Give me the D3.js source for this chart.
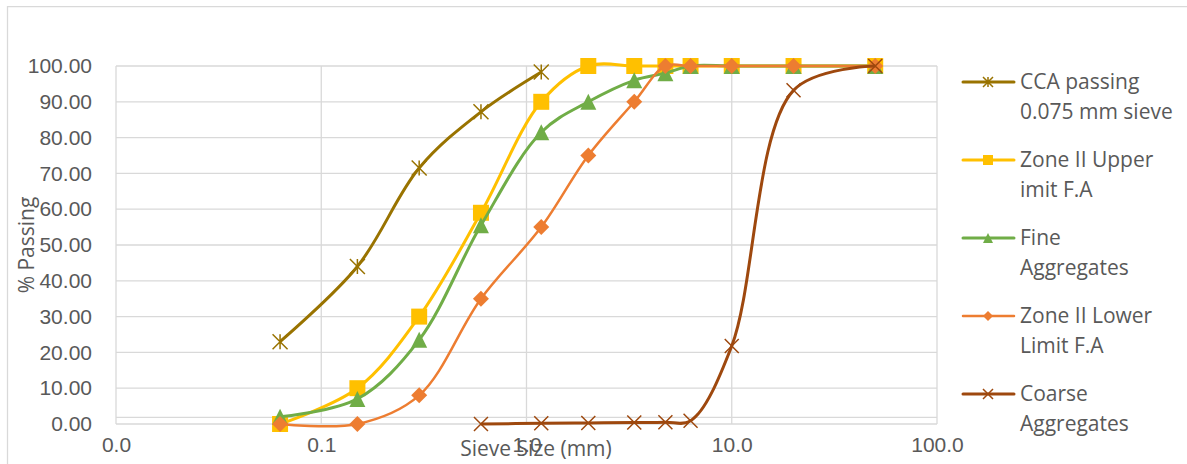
<!DOCTYPE html>
<html>
<head>
<meta charset="utf-8">
<script src="https://cdn.jsdelivr.net/npm/d3@7"></script>
<style>
  body { margin: 0; background: #fff; }
  svg { font-family: "Open Sans", "Noto Sans", sans-serif; }
  .tick text { fill: #595959; font-size: 21px; }
</style>
</head>
<body>
<div id="chart"></div>
<script>
// Tamiz (mm) para cada punto
var sieveSizes = [0.063, 0.15, 0.3, 0.6, 1.18, 2.0, 3.35, 4.75, 6.3, 10, 20, 50];
var coarseSizes = [0.6, 1.18, 2.0, 3.35, 4.75, 6.3, 10, 20, 50];

// % que pasa
var ccaPassing = [23, 44, 71.5, 87.2, 98.3];
var upperLimit = [0, 10, 30, 59, 90, 100, 100, 100, 100, 100, 100, 100];
var fineAgg = [2, 7, 23.5, 55.5, 81.5, 90, 96, 98, 100, 100, 100, 100];
var lowerLimit = [0, 0, 8, 35, 55, 75, 90, 100, 100, 100, 100, 100];
var coarseAgg = [0, 0.2, 0.3, 0.4, 0.5, 0.9, 21.8, 93.2, 100];

var xTicks = [0.01, 0.1, 1, 10, 100];
var yTicks = [0, 10, 20, 30, 40, 50, 60, 70, 80, 90, 100];

var seriesNames = ["CCA passing\n0.075 mm sieve", "Zone II Upper\nimit F.A", "Fine\nAggregates", "Zone II Lower\nLimit F.A", "Coarse\nAggregates"];

var width = 1187, height = 464;
var plotLeft = 116, plotRight = 937, plotTop = 66, plotBottom = 424;
var fontSize = 21;

var svg = d3.select("#chart").append("svg")
  .attr("width", width)
  .attr("height", height);

// borde del grafico
svg.append("path")
  .attr("d", "M7.5," + height + "V6.5H" + width)
  .attr("fill", "none")
  .attr("stroke", "#d9d9d9")
  .attr("stroke-width", 1.25);

var xScale = d3.scaleLog().domain([0.01, 100]).range([plotLeft, plotRight]);
var yScale = d3.scaleLinear().domain([0, 100]).range([plotBottom, plotTop]);

// gridlines
var grid = svg.append("g").attr("stroke", "#d9d9d9").attr("stroke-width", 1.3);
grid.selectAll("line.h").data(yTicks).enter().append("line")
  .attr("x1", plotLeft).attr("x2", plotRight)
  .attr("y1", function(d) { return yScale(d); })
  .attr("y2", function(d) { return yScale(d); });
grid.selectAll("line.v").data(xTicks).enter().append("line")
  .attr("y1", plotTop).attr("y2", plotBottom)
  .attr("x1", function(d) { return xScale(d); })
  .attr("x2", function(d) { return xScale(d); });
// linea del eje horizontal
grid.append("line")
  .attr("x1", plotLeft).attr("x2", plotRight)
  .attr("y1", yScale(1.85)).attr("y2", yScale(1.85));

// ejes
var yAxis = d3.axisLeft(yScale).tickValues(yTicks).tickFormat(d3.format(".2f")).tickSize(0).tickPadding(24);
svg.append("g").attr("transform", "translate(" + plotLeft + ",0)").call(yAxis)
  .call(function(g) { g.select(".domain").remove(); });

var xAxis = d3.axisBottom(xScale).tickValues(xTicks).tickFormat(d3.format(".1f")).tickSize(0).tickPadding(13);
svg.append("g").attr("transform", "translate(0," + plotBottom + ")").call(xAxis)
  .call(function(g) { g.select(".domain").remove(); });

// titulos de ejes
svg.append("text")
  .attr("transform", "translate(34," + ((plotTop + plotBottom) / 2) + ")rotate(-90)")
  .attr("text-anchor", "middle")
  .attr("fill", "#595959")
  .attr("font-size", fontSize)
  .text("% Passing");

svg.append("text")
  .attr("x", 536).attr("y", 456)
  .attr("text-anchor", "middle")
  .attr("fill", "#595959")
  .attr("font-size", fontSize)
  .text("Sieve Size (mm)");

// marcadores
function markerPath(type, s) {
  var h = s / 2;
  if (type === "square") return "M" + -h + "," + -h + "h" + s + "v" + s + "h" + -s + "Z";
  if (type === "triangle") return "M0," + -h + "L" + h + "," + h + "L" + -h + "," + h + "Z";
  if (type === "diamond") return "M0," + -h + "L" + h + ",0L0," + h + "L" + -h + ",0Z";
  if (type === "x") return "M" + -h + "," + -h + "L" + h + "," + h + "M" + h + "," + -h + "L" + -h + "," + h;
  if (type === "star") return "M" + -h + "," + -h + "L" + h + "," + h + "M" + h + "," + -h + "L" + -h + "," + h + "M0," + -h + "V" + h;
  return "";
}

var series = [
  { xs: sieveSizes, ys: ccaPassing, color: "#997300", marker: "star", size: 15, lw: 3 },
  { xs: sieveSizes, ys: upperLimit, color: "#ffc000", marker: "square", size: 16, lw: 3 },
  { xs: sieveSizes, ys: fineAgg, color: "#70ad47", marker: "triangle", size: 16, lw: 3 },
  { xs: sieveSizes, ys: lowerLimit, color: "#ed7d31", marker: "diamond", size: 16, lw: 2.5 },
  { xs: coarseSizes, ys: coarseAgg, color: "#9e480e", marker: "x", size: 14, lw: 3 }
];

// suavizado tipo Excel
var line = d3.line()
  .x(function(d) { return xScale(d[0]); })
  .y(function(d) { return yScale(d[1]); })
  .curve(d3.curveCatmullRom.alpha(0.5));

series.forEach(function(s, i) {
  var pts = s.ys.map(function(v, j) { return [s.xs[j], v]; });
  var g = svg.append("g");
  g.append("path")
    .attr("d", line(pts))
    .attr("fill", "none")
    .attr("stroke", s.color)
    .attr("stroke-width", s.lw)
    .attr("stroke-linejoin", "round");
  var stroked = s.marker === "x" || s.marker === "star";
  g.selectAll("path.m").data(pts).enter().append("path")
    .attr("class", "m")
    .attr("transform", function(d) { return "translate(" + xScale(d[0]) + "," + yScale(d[1]) + ")"; })
    .attr("d", markerPath(s.marker, s.size))
    .attr("fill", stroked ? "none" : s.color)
    .attr("stroke", s.color)
    .attr("stroke-width", stroked ? 1.5 : 0);

  // leyenda
  var ly = 82 + i * 78;
  var lg = svg.append("g");
  lg.append("line")
    .attr("x1", 963).attr("x2", 1014)
    .attr("y1", ly).attr("y2", ly)
    .attr("stroke", s.color).attr("stroke-width", s.lw)
    .attr("stroke-linecap", "round");
  lg.append("path")
    .attr("transform", "translate(988," + ly + ")")
    .attr("d", markerPath(s.marker, 10))
    .attr("fill", stroked ? "none" : s.color)
    .attr("stroke", s.color)
    .attr("stroke-width", stroked ? 1.5 : 0);
  var t = lg.append("text")
    .attr("x", 1020).attr("y", ly + 7)
    .attr("fill", "#595959")
    .attr("font-size", fontSize);
  seriesNames[i].split("\n").forEach(function(part, k) {
    t.append("tspan").attr("x", 1020).attr("dy", k === 0 ? 0 : 29.5).text(part);
  });
});
</script>
</body>
</html>
